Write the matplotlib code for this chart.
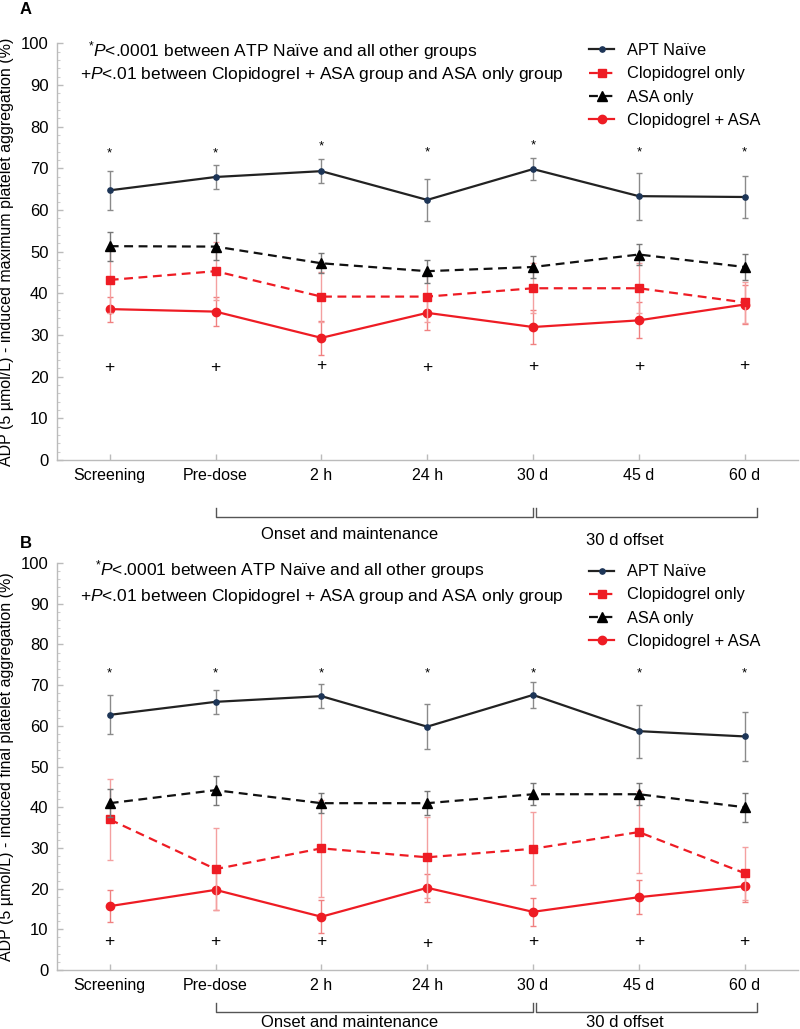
import matplotlib
matplotlib.use('Agg')
import matplotlib.pyplot as plt
import numpy as np
from matplotlib.ticker import MultipleLocator
from matplotlib.transforms import blended_transform_factory

plt.rcParams['font.family'] = ['Liberation Sans', 'DejaVu Sans']
plt.rcParams['mathtext.fontset'] = 'custom'
plt.rcParams['mathtext.rm'] = 'Liberation Sans'
plt.rcParams['mathtext.it'] = 'Liberation Sans:italic'

# ---------------- data ----------------
timepoints = ['Screening', 'Pre-dose', '2 h', '24 h', '30 d', '45 d', '60 d']
series_names = ['APT Naïve', 'Clopidogrel only', 'ASA only', 'Clopidogrel + ASA']

# Panel A: maximum platelet aggregation
apt_A = [64.7, 67.9, 69.3, 62.4, 69.8, 63.3, 63.1]
clop_A = [43.2, 45.3, 39.2, 39.2, 41.2, 41.2, 37.8]
asa_A = [51.3, 51.2, 47.2, 45.3, 46.3, 49.3, 46.3]
dual_A = [36.2, 35.6, 29.3, 35.3, 31.9, 33.5, 37.3]
apt_A_err = [4.7, 2.8, 2.8, 5.0, 2.7, 5.6, 5.0]
clop_A_err = [8.0, 7.0, 6.0, 6.0, 6.0, 6.0, 5.0]
asa_A_err = [3.5, 3.2, 2.4, 2.8, 2.7, 2.5, 3.2]
dual_A_err = [3.0, 3.4, 4.0, 4.0, 4.0, 4.3, 4.7]
star_A = [73.5, 73.5, 75.3, 73.8, 75.4, 73.8, 73.8]
plus_A = [22.2, 22.2, 22.6, 22.2, 22.4, 22.4, 22.6]

# Panel B: final platelet aggregation
apt_B = [62.7, 65.9, 67.3, 59.8, 67.6, 58.7, 57.4]
clop_B = [37.0, 24.8, 29.9, 27.7, 29.8, 33.9, 23.8]
asa_B = [41.0, 44.2, 41.0, 41.0, 43.2, 43.2, 40.0]
dual_B = [15.7, 19.7, 13.1, 20.2, 14.3, 17.9, 20.6]
apt_B_err = [4.8, 2.9, 2.9, 5.6, 3.1, 6.5, 6.0]
clop_B_err = [10.0, 10.0, 12.0, 10.0, 9.0, 10.0, 6.5]
asa_B_err = [3.5, 3.6, 2.5, 3.0, 2.7, 2.7, 3.6]
dual_B_err = [3.9, 4.9, 4.1, 3.5, 3.5, 4.2, 4.0]
star_B = [72.9, 72.9, 72.9, 72.9, 72.9, 72.9, 72.9]
plus_B = [7.0, 7.0, 7.0, 6.5, 7.0, 7.0, 7.0]

ylabel_A = 'ADP (5 µmol/L) - induced maximum platelet aggregation (%)'
ylabel_B = 'ADP (5 µmol/L) - induced final platelet aggregation (%)'
note1 = r'$^{*}\mathit{P}$<.0001 between ATP Naïve and all other groups'
note2 = r'+$\mathit{P}$<.01 between Clopidogrel + ASA group and ASA only group'

RED = '#ee1c24'
styles = [
    dict(color='#222222', ls='-', marker='o', ms=3.8, mfc='#1d3557', mec='#1d3557', lw=1.6, ecolor='#8a8a8a', z=6),
    dict(color=RED, ls=(0, (4, 2.5)), marker='s', ms=6, mfc=RED, mec=RED, lw=1.6, ecolor='#f4a0a0', z=4),
    dict(color='#111111', ls=(0, (4, 2.5)), marker='^', ms=6.5, mfc='#000000', mec='#000000', lw=1.6, ecolor='#777777', z=5),
    dict(color=RED, ls='-', marker='o', ms=6, mfc=RED, mec=RED, lw=1.6, ecolor='#f08080', z=3),
]

fig = plt.figure(figsize=(8, 10.29), dpi=100)
axA = fig.add_axes([0.071, 0.553, 0.926, 0.405])
axB = fig.add_axes([0.071, 0.0573, 0.926, 0.3955])


def draw(ax, means, errs, stars, plus, ylabel, note_pos, leg_pos, bracket):
    x = np.arange(len(timepoints))
    for name, m, e, st in zip(series_names, means, errs, styles):
        ax.errorbar(x, m, yerr=e, fmt='none', ecolor=st['ecolor'], elinewidth=1.0,
                    capsize=2.5, capthick=1.0, zorder=st['z'] - 0.5)
        ax.plot(x, m, color=st['color'], ls=st['ls'], lw=st['lw'], marker=st['marker'],
                ms=st['ms'], mfc=st['mfc'], mec=st['mec'], label=name, zorder=st['z'])
    for i, yv in enumerate(stars):
        ax.text(x[i], yv, '*', ha='center', va='center', fontsize=9.5)
    for i, yv in enumerate(plus):
        ax.text(x[i], yv, '+', ha='center', va='center', fontsize=12.5)

    ax.set_xlim(-0.5, 6.5)
    ax.set_ylim(0, 100)
    ax.set_xticks(x)
    ax.set_xticklabels(timepoints, fontsize=11.5)
    ax.set_yticks(np.arange(0, 101, 10))
    ax.tick_params(axis='y', labelsize=12)
    ax.yaxis.set_minor_locator(MultipleLocator(2))
    ax.tick_params(which='major', direction='in', length=4, color='#bbbbbb', width=1, pad=6)
    ax.tick_params(which='minor', direction='in', length=2.5, color='#cccccc', width=0.8)
    for s in ['top', 'right']:
        ax.spines[s].set_visible(False)
    for s in ['left', 'bottom']:
        ax.spines[s].set_color('#bbbbbb')
        ax.spines[s].set_linewidth(1)
    ax.set_ylabel(ylabel, fontsize=11.5, labelpad=5)

    (n1x, n1y), (n2x, n2y) = note_pos
    ax.text(n1x, n1y, note1, transform=ax.transAxes, fontsize=12.5, va='center', ha='left')
    ax.text(n2x, n2y, note2, transform=ax.transAxes, fontsize=12.5, va='center', ha='left')

    ax.legend(loc='upper left', bbox_to_anchor=leg_pos, frameon=False, fontsize=11.8,
              handlelength=1.5, handletextpad=0.8, labelspacing=0.5, borderpad=0,
              borderaxespad=0)

    y_line, y_top, y_t1, y_t2 = bracket
    tr = blended_transform_factory(ax.transData, ax.transAxes)
    kw = dict(color='#555555', lw=1.0, transform=tr, clip_on=False)
    ax.plot([1, 1, 4.0, 4.0], [y_top, y_line, y_line, y_top], **kw)
    ax.plot([4.03, 4.03, 6.12, 6.12], [y_top, y_line, y_line, y_top], **kw)
    ax.text(2.27, y_t1, 'Onset and maintenance', transform=tr, ha='center', va='center', fontsize=12)
    ax.text(4.87, y_t2, '30 d offset', transform=tr, ha='center', va='center', fontsize=12)


draw(axA, [apt_A, clop_A, asa_A, dual_A], [apt_A_err, clop_A_err, asa_A_err, dual_A_err],
     star_A, plus_A, ylabel_A, [(0.042, 0.983), (0.031, 0.925)], (0.719, 1.0),
     (-0.137, -0.115, -0.18, -0.194))
draw(axB, [apt_B, clop_B, asa_B, dual_B], [apt_B_err, clop_B_err, asa_B_err, dual_B_err],
     star_B, plus_B, ylabel_B, [(0.052, 0.983), (0.031, 0.918)], (0.719, 0.997),
     (-0.103, -0.081, -0.128, -0.128))

fig.text(20 / 800, 1 - 10 / 1029, 'A', fontsize=12, fontweight='bold', va='center', ha='left')
fig.text(20 / 800, 1 - 543 / 1029, 'B', fontsize=12, fontweight='bold', va='center', ha='left')

fig.savefig('out.png', dpi=100)
